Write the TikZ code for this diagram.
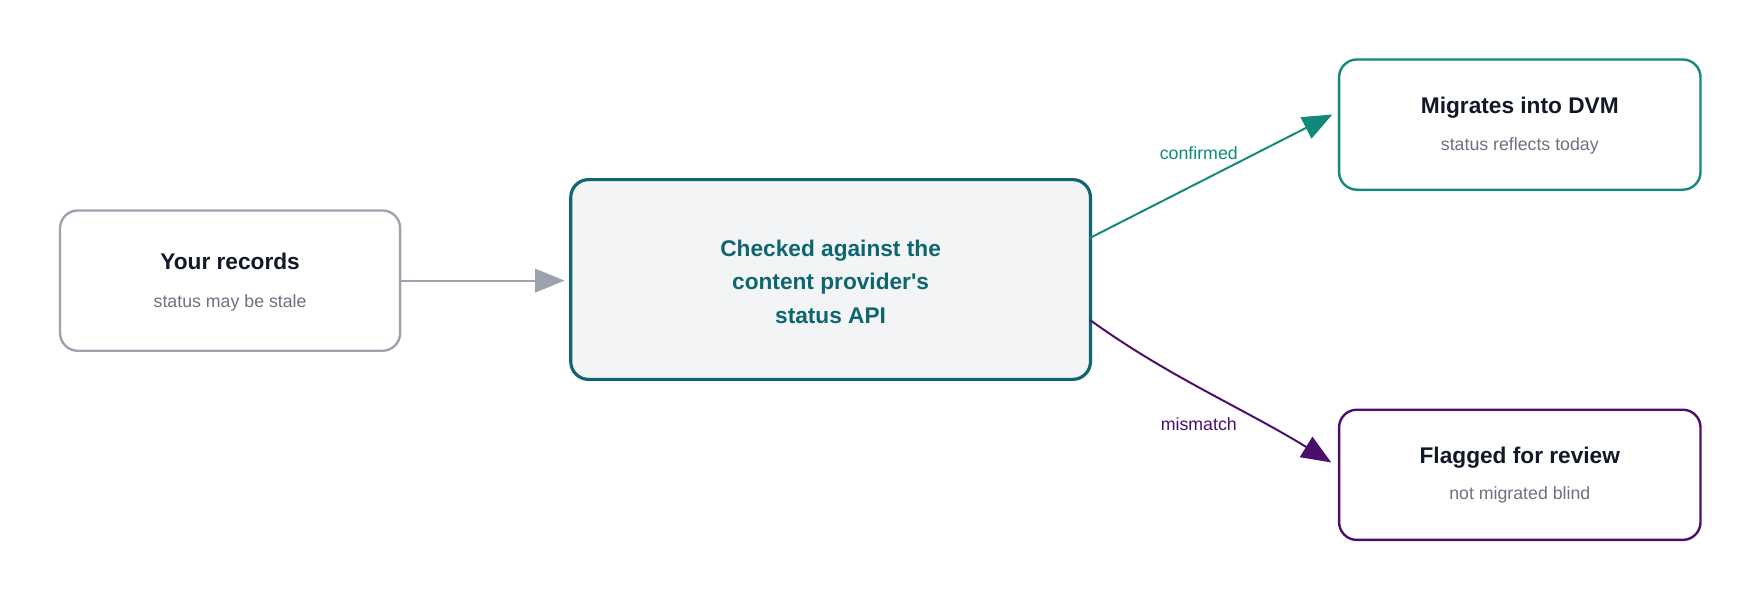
\documentclass[tikz,border=0pt]{standalone}
\usepackage{fontspec}
\setmainfont{Liberation Sans}
\usetikzlibrary{arrows.meta,positioning}
\definecolor{edgegray}{HTML}{9CA3AF}
\definecolor{subgray}{HTML}{6B7280}
\definecolor{titledark}{HTML}{111827}
\definecolor{apiteal}{HTML}{0F6670}
\definecolor{apifill}{HTML}{F2F4F5}
\definecolor{okgreen}{HTML}{11897A}
\definecolor{badpurple}{HTML}{4A0E6B}
\tikzset{box/.style={draw, rounded corners=9pt, line width=1.2pt, fill=white, align=center},
  title/.style={font=\bfseries\fontsize{11.5}{14}\selectfont, text=titledark},
  sub/.style={font=\fontsize{9}{11}\selectfont, text=subgray},
  flow/.style={line width=1pt, -{Triangle[length=15pt,width=12pt]}}}
\begin{document}
\begin{tikzpicture}[x=0.02cm,y=-0.02cm]
\useasboundingbox (0,0) rectangle (1568,535);

% Boxes
\node[box, draw=edgegray, minimum width=303*0.02cm, minimum height=125*0.02cm] (rec) at (205,250) {};
\node[box, draw=apiteal, fill=apifill, line width=1.6pt, minimum width=463*0.02cm, minimum height=178*0.02cm] (api) at (740,249) {};
\node[box, draw=okgreen, minimum width=322*0.02cm, minimum height=116*0.02cm] (dvm) at (1354,111) {};
\node[box, draw=badpurple, minimum width=322*0.02cm, minimum height=116*0.02cm] (rev) at (1354,423) {};

% Texts
\node[title] (rect) at (205,233) {Your records};
\node[sub] (recs) at (205,270) {status may be stale};
\node[title, text=apiteal, align=center, font=\bfseries\fontsize{11.5}{17}\selectfont] (apit) at (740,251) {Checked against the\\content provider\textquotesingle s\\status API};
\node[title] (dvmt) at (1354,96) {Migrates into DVM};
\node[sub] (dvms) at (1354,130) {status reflects today};
\node[title] (revt) at (1354,408) {Flagged for review};
\node[sub] (revs) at (1354,441) {not migrated blind};

% Connectors
\coordinate (a1) at (356,250);
\coordinate (a2) at (503,250);
\draw[flow, draw=edgegray] (a1) -- (a2);
\coordinate (c1) at (971,212);
\coordinate (c2) at (1187,102);
\draw[flow, draw=okgreen] (c1) -- (c2);
\node[font=\fontsize{9}{11}\selectfont, text=okgreen] (conf) at (1068,136) {confirmed};
\coordinate (m1) at (971,285);
\coordinate (m2) at (1186,412);
\draw[flow, draw=badpurple] (m1) .. controls (1040,335) and (1110,365) .. (m2);
\node[font=\fontsize{9}{11}\selectfont, text=badpurple] (mism) at (1068,378) {mismatch};
\end{tikzpicture}
\end{document}
